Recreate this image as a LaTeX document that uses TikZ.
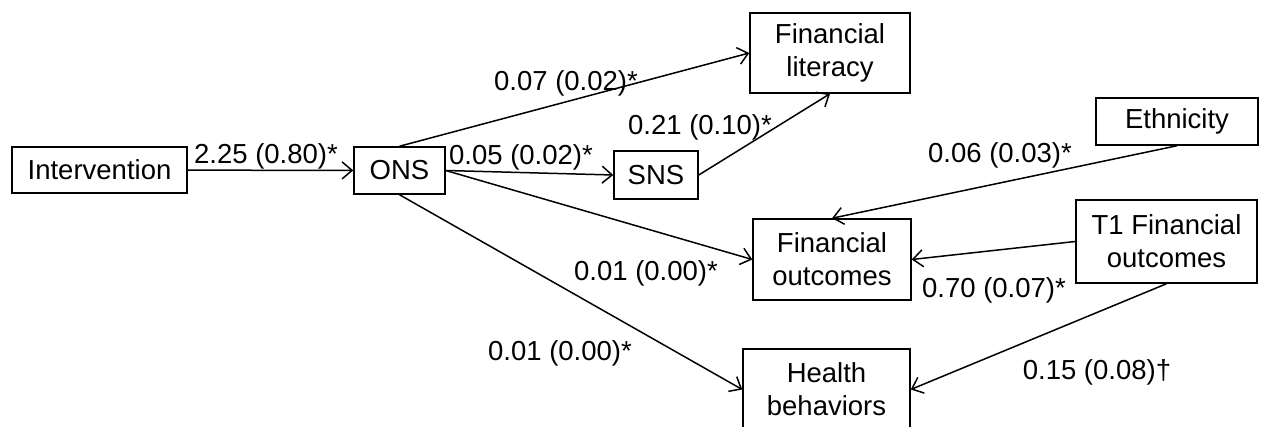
\documentclass[tikz,border=0pt]{standalone}
\usepackage{fontspec}
\setmainfont{Liberation Sans}
\usetikzlibrary{arrows.meta,positioning,calc}

\begin{document}
\begin{tikzpicture}[
      x=1pt, y=-1pt,
      font=\fontsize{27.5}{33}\selectfont,
      box/.style={draw, line width=1.5pt, align=center, inner sep=0pt},
      arrow/.style={-{Straight Barb[length=10pt,width=17pt,line width=1.5pt]}, line width=1.5pt},
      coef/.style={inner sep=0pt}
    ]
      \clip (0,0) rectangle (1264,427);
      \node[box, minimum width=175pt, minimum height=46pt] (int) at (99.5,170) {Intervention};
      \node[box, minimum width=91pt, minimum height=47pt] (ons) at (399.5,170.5) {ONS};
      \node[box, minimum width=84pt, minimum height=48pt] (sns) at (656,175) {SNS};
      \node[box, minimum width=160pt, minimum height=80pt] (lit) at (830,53) {Financial\\literacy};
      \node[box, minimum width=158pt, minimum height=81pt] (out) at (832,259.5) {Financial\\outcomes};
      \node[box, minimum width=167pt, minimum height=81pt] (hlth) at (826.5,389.5) {Health\\behaviors};
      \node[box, minimum width=162pt, minimum height=47pt] (eth) at (1177,121.5) {Ethnicity};
      \node[box, minimum width=181pt, minimum height=83pt] (t1) at (1166.5,241.5) {T1 Financial\\outcomes};

      \draw[arrow] (int) -- (ons);
      \draw[arrow] (ons.north) -- (lit.west);
      \draw[arrow] (ons.east) -- (sns.west);
      \draw[arrow] (sns.east) -- (lit.south);
      \draw[arrow] (ons.east) -- (out.west);
      \draw[arrow] (ons.south) -- (hlth.west);
      \draw[arrow] (eth.south) -- (out.north);
      \draw[arrow] (t1.west) -- (out.east);
      \draw[arrow] (t1.south) -- (hlth.east);

      \node[coef] (c1) at (266,156) {2.25 (0.80)*};
      \node[coef] (c2) at (566,83) {0.07 (0.02)*};
      \node[coef] (c3) at (700,127) {0.21 (0.10)*};
      \node[coef] (c4) at (521,157) {0.05 (0.02)*};
      \node[coef] (c5) at (1000,155) {0.06 (0.03)*};
      \node[coef] (c6) at (646,273) {0.01 (0.00)*};
      \node[coef] (c7) at (994,290) {0.70 (0.07)*};
      \node[coef] (c8) at (560,353) {0.01 (0.00)*};
      \node[coef] (c9) at (1097,372) {0.15 (0.08)†};
    \end{tikzpicture}
\end{document}
